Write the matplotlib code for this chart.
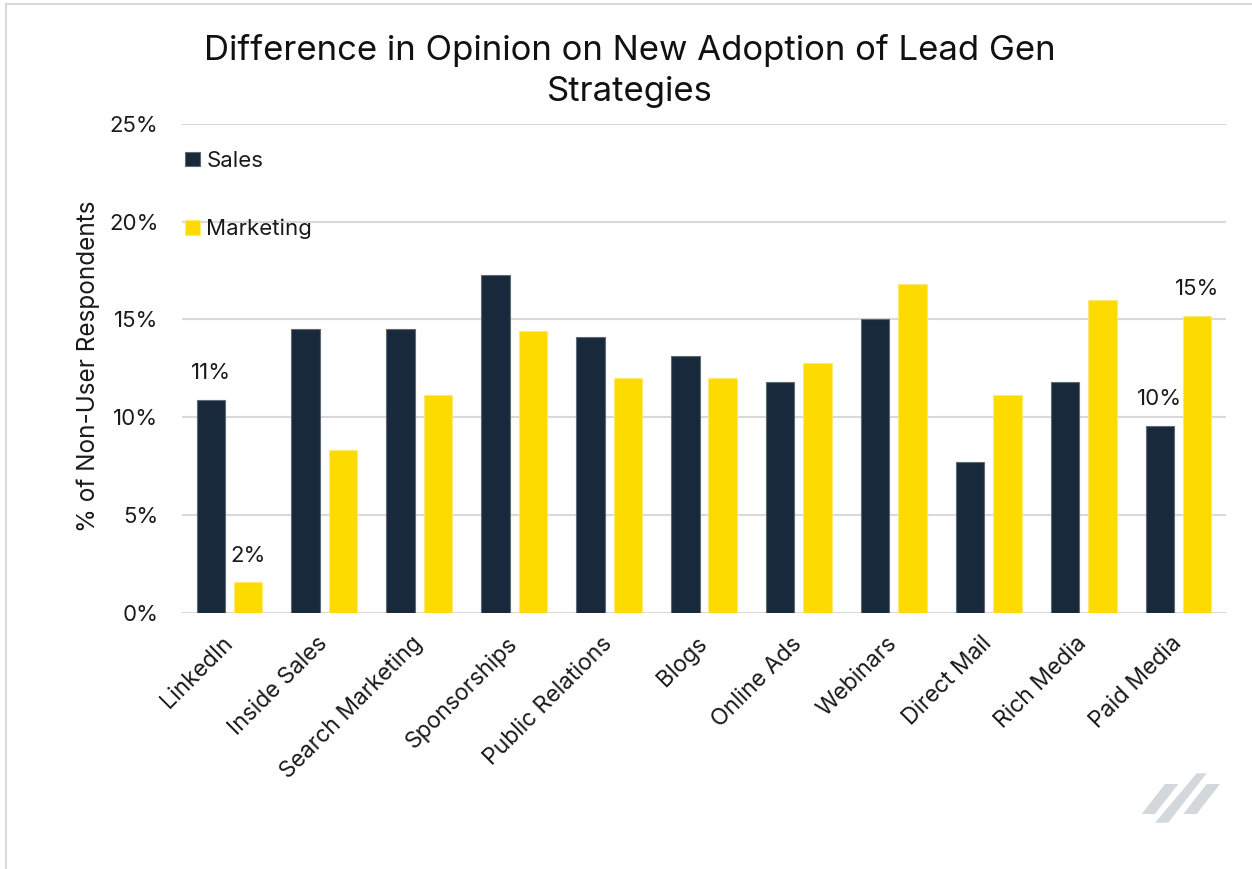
import numpy as np
import matplotlib
matplotlib.use('Agg')
import matplotlib.pyplot as plt
from matplotlib.patches import Polygon
from matplotlib.lines import Line2D

plt.rcParams['font.family'] = ['Inter', 'DejaVu Sans']

# 数据
categories = ['LinkedIn', 'Inside Sales', 'Search Marketing', 'Sponsorships',
              'Public Relations', 'Blogs', 'Online Ads', 'Webinars',
              'Direct Mail', 'Rich Media', 'Paid Media']
sales = [10.9, 14.5, 14.5, 17.25, 14.1, 13.15, 11.8, 15.0, 7.7, 11.8, 9.55]
marketing = [1.55, 8.3, 11.15, 14.4, 12.0, 12.0, 12.75, 16.8, 11.15, 16.0, 15.2]
ticks = [0, 5, 10, 15, 20, 25]
# 只有这几个柱子带数字标签 (series, index, text)
bar_labels = [('s', 0, '11%'), ('m', 0, '2%'), ('s', 10, '10%'), ('m', 10, '15%')]

colSales = '#18293B'
colMkt = '#FDDA00'
W, H = 1252, 869

fig = plt.figure(figsize=(W / 100, H / 100), dpi=100)
ax = fig.add_axes([182 / W, 1 - 612.7 / H, (1226 - 182) / W, (612.7 - 124) / H])

x = np.arange(len(categories))
bw = 0.30
off = 0.197
bs = ax.bar(x - off, sales, bw, color=colSales, edgecolor='#5E6A76', linewidth=0.8, label='Sales', zorder=3)
bm = ax.bar(x + off, marketing, bw, color=colMkt, edgecolor='#FFE970', linewidth=0.8, label='Marketing', zorder=3)

for ser, i, txt in bar_labels:
    bars = bs if ser == 's' else bm
    b = bars[i]
    ax.annotate(txt, (b.get_x() + b.get_width() / 2, b.get_height()),
                xytext=(0, 12), textcoords='offset points',
                ha='center', va='bottom', fontsize=16, color='#1a1a1a')

ax.set_xlim(-0.5, len(categories) - 0.5)
ax.set_ylim(0, 25)
ax.set_yticks(ticks)
ax.set_yticklabels(['%d%%' % t for t in ticks])
ax.grid(axis='y', color='#D9D9D9', linewidth=1.5, zorder=0)
ax.set_axisbelow(True)
for s in ax.spines.values():
    s.set_visible(False)
ax.tick_params(axis='y', length=0, pad=17, labelsize=16, labelcolor='#1a1a1a')
ax.tick_params(axis='x', length=0, pad=20, labelsize=16.5, labelcolor='#1a1a1a')
ax.set_xticks(x)
ax.set_xticklabels(categories, rotation=45, ha='right', va='center', rotation_mode='anchor')

ax.set_ylabel('% of Non-User Respondents', fontsize=17.5, color='#1a1a1a')
ax.yaxis.set_label_coords(-0.079, 0.505)

leg = ax.legend(loc='upper left', bbox_to_anchor=(0.003, 0.945), frameon=False,
                fontsize=16, handlelength=0.65, handleheight=0.65,
                handletextpad=0.3, labelspacing=2.15, borderaxespad=0, borderpad=0)
for t in leg.get_texts():
    t.set_color('#1a1a1a')

fig.text(630 / W, 1 - 34 / H, 'Difference in Opinion on New Adoption of Lead Gen\nStrategies',
         ha='center', va='top', fontsize=25, color='#111111', linespacing=1.35)

# 边框线
fig.add_artist(Line2D([6 / W, 6 / W], [0, 1 - 4 / H], color='#D9D9D9', lw=1.5))
fig.add_artist(Line2D([6 / W, 1], [1 - 4 / H, 1 - 4 / H], color='#D9D9D9', lw=1.5))

# 右下角的logo
logo = [
    [(1141.7, 814), (1155, 814), (1178.3, 784), (1165, 784)],
    [(1155, 822.7), (1168.3, 822.7), (1206.7, 773.3), (1196.7, 773.3)],
    [(1183.3, 814), (1196.7, 814), (1220, 784), (1206.7, 784)],
]
for pts in logo:
    fig.add_artist(Polygon([(px / W, 1 - py / H) for px, py in pts], closed=True,
                           transform=fig.transFigure, color='#D3D8DC', lw=0))

fig.savefig('out.png', dpi=100, facecolor='white')
